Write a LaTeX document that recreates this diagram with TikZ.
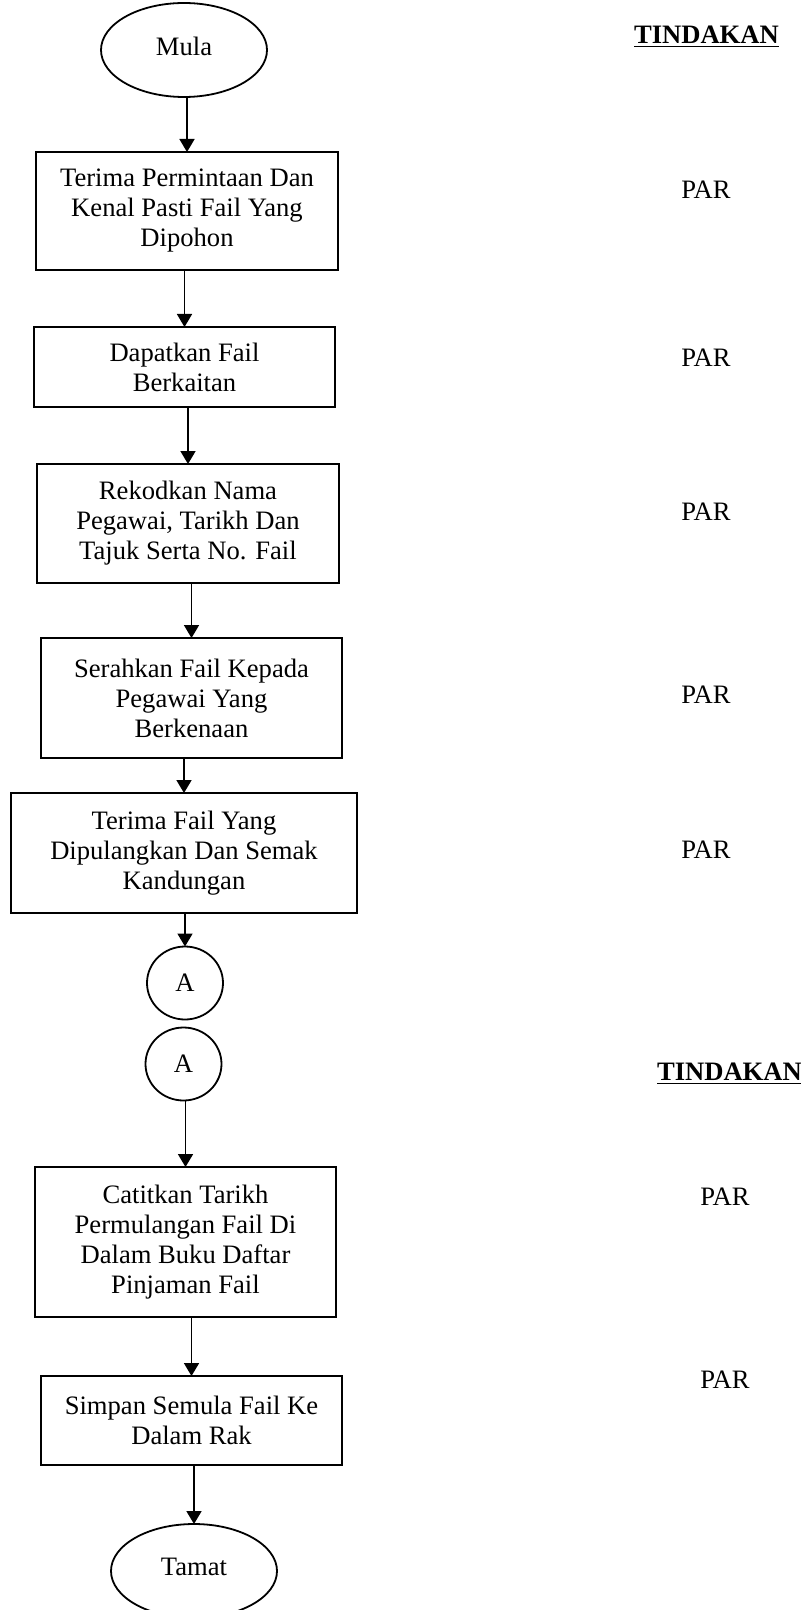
\documentclass[tikz,border=0pt]{standalone}
\usepackage{fontspec}
\setmainfont{Liberation Serif}
\usetikzlibrary{arrows.meta,shapes.geometric}
\begin{document}
\begin{tikzpicture}[x=0.5pt,y=-0.5pt,
  every node/.style={inner sep=0pt,outer sep=0pt,font=\fontsize{13.3}{15}\selectfont},
  stepbox/.style={draw,line width=0.9pt,align=center,minimum width=#1},
  term/.style={draw,line width=0.9pt,ellipse,minimum width=83pt,minimum height=47pt},
  conn/.style={draw,line width=0.9pt,ellipse,minimum width=38pt,minimum height=36.5pt},
  arr/.style={line width=0.9pt,-{Triangle[length=6.5pt,width=7.5pt]}},
  head/.style={font=\fontsize{13.3}{15}\selectfont\bfseries,anchor=west},
  who/.style={}
]
\useasboundingbox (0,0) rectangle (801,1610);
% flow
\node[term] (start) at (184,50) {\raisebox{4pt}{Mula}};
\node[stepbox=151pt,minimum height=59pt] (b1) at (187,211) {Terima Permintaan Dan\\Kenal Pasti Fail Yang\\Dipohon};
\node[stepbox=150.5pt,minimum height=40pt] (b2) at (184.5,367) {Dapatkan Fail\\Berkaitan};
\node[stepbox=151pt,minimum height=59.5pt] (b3) at (188,523.5) {Rekodkan Nama\\Pegawai, Tarikh Dan\\Tajuk Serta No. Fail};
\node[stepbox=150.5pt,minimum height=60pt] (b4) at (191.5,698) {Serahkan Fail Kepada\\Pegawai Yang\\Berkenaan};
\node[stepbox=173pt,minimum height=60pt] (b5) at (184,853) {Terima Fail Yang\\Dipulangkan Dan Semak\\Kandungan};
\node[conn] (a1) at (185,983) {A};
\node[conn] (a2) at (183.5,1064) {A};
\node[stepbox=150.5pt,minimum height=75pt] (b6) at (185.5,1242) {Catitkan Tarikh\\Permulangan Fail Di\\Dalam Buku Daftar\\Pinjaman Fail};
\node[stepbox=150.5pt,minimum height=44.5pt] (b7) at (191.5,1420.5) {Simpan Semula Fail Ke\\Dalam Rak};
\node[term] (end) at (194,1571) {\raisebox{4pt}{Tamat}};
% connectors
\draw[arr] (b1.north |- start.south) -- (b1.north);
\draw[arr] (b2.north |- b1.south) -- (b2.north);
\draw[arr] (b3.north |- b2.south) -- (b3.north);
\draw[arr] (b4.north |- b3.south) -- (b4.north);
\draw[arr] (b5.north |- b4.south) -- (b5.north);
\draw[arr] (a1.north |- b5.south) -- (a1.north);
\draw[arr] (b6.north |- a2.south) -- (b6.north);
\draw[arr] (b7.north |- b6.south) -- (b7.north);
\draw[arr] (end.north |- b7.south) -- (end.north);
% action column
\node[head] (t1) at (634,37) {\underline{TINDAKAN}};
\node[who] (p1) at (706,190) {PAR};
\node[who] (p2) at (706,358) {PAR};
\node[who] (p3) at (706,512) {PAR};
\node[who] (p4) at (706,695) {PAR};
\node[who] (p5) at (706,850) {PAR};
\node[head] (t2) at (657,1074) {\underline{TINDAKAN}};
\node[who] (p6) at (725,1197) {PAR};
\node[who] (p7) at (725,1380) {PAR};
\end{tikzpicture}
\end{document}
